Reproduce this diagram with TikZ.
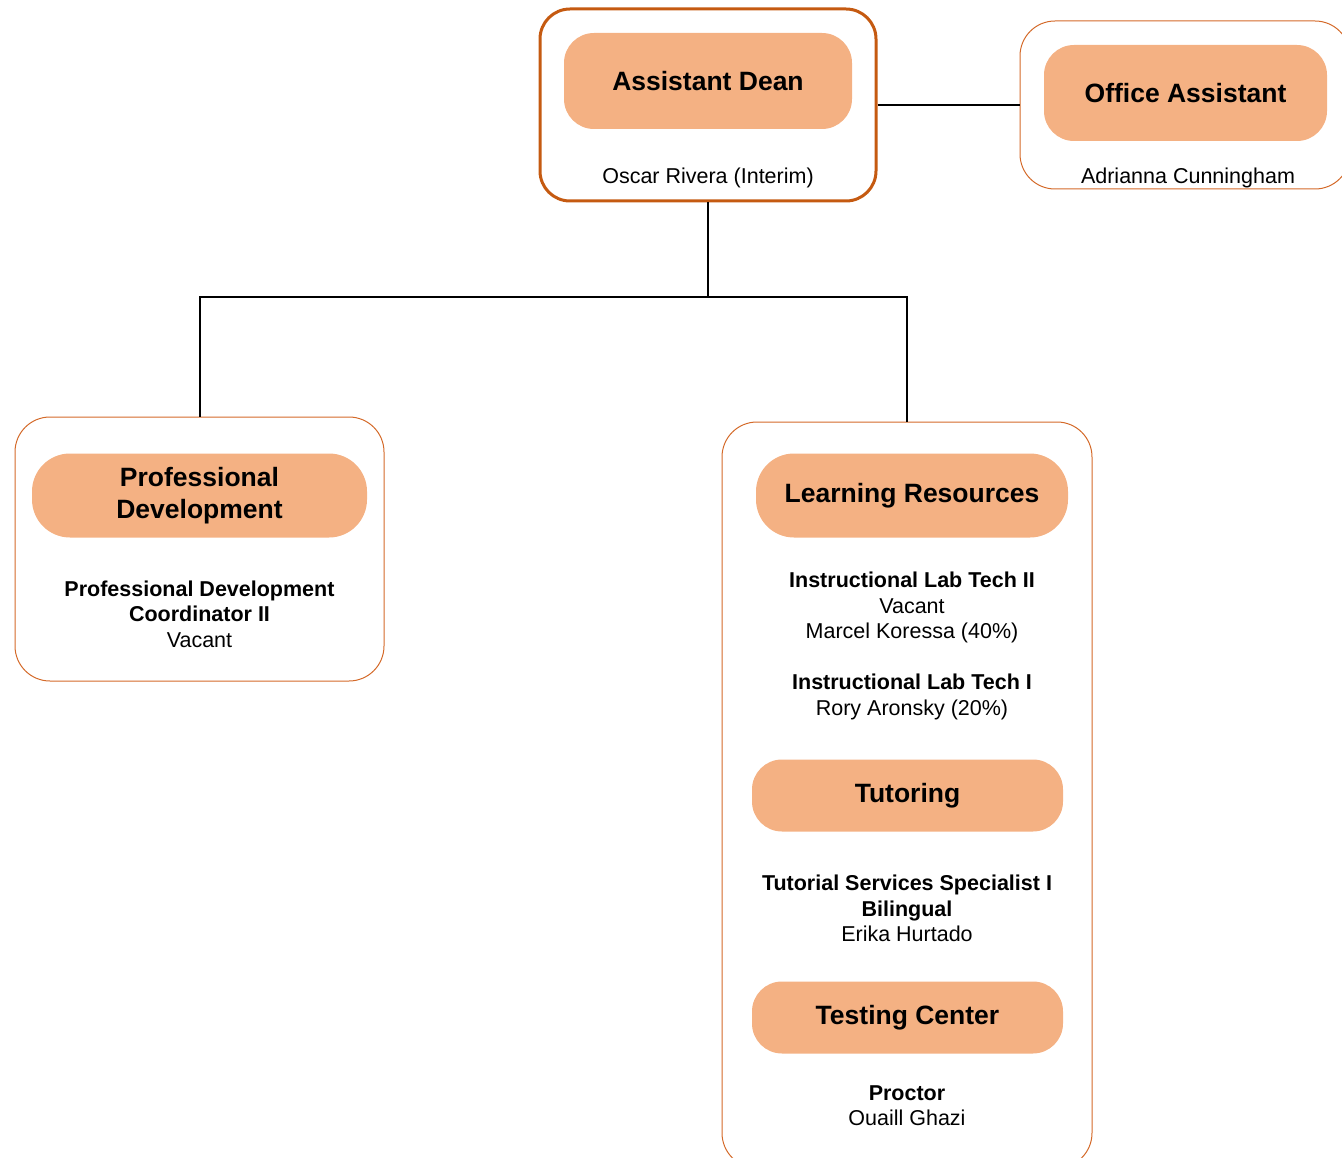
\documentclass[tikz,border=0pt]{standalone}
\usepackage{fontspec}
\setmainfont{Liberation Sans}
\usepackage{tikz}
\definecolor{deanedge}{HTML}{C55A11}
\definecolor{unitedge}{HTML}{D46A2A}
\definecolor{titlefill}{HTML}{F4B183}

\begin{document}
\begin{tikzpicture}[x=1pt, y=-1pt,
    unitbox/.style={draw=unitedge, line width=1pt, rounded corners=35pt, inner sep=0pt},
    titlebox/.style={fill=titlefill, rounded corners=30pt, inner sep=0pt, align=center,
        font=\fontsize{26.5}{32}\selectfont\bfseries},
    staff/.style={align=center, font=\fontsize{21.5}{25.5}\selectfont},
    link/.style={line width=2pt}]
\useasboundingbox (0,0) rectangle (1342,1158);
\clip (0,0) rectangle (1342,1158);
%
\node [unitbox, draw=deanedge, line width=3pt, rounded corners=30pt,
       minimum width=336pt, minimum height=192pt] (dean) at (708,105) {};
\node [unitbox, minimum width=330pt, minimum height=168pt] (office) at (1185,105) {};
\node [unitbox, minimum width=369pt, minimum height=264pt] (pd) at (199.5,549) {};
\node [unitbox, minimum width=370pt, minimum height=746pt] (lr) at (907,795) {};
%
\node [titlebox, minimum width=288pt, minimum height=96pt] (deantitle) at (708,81) {Assistant Dean};
\node [titlebox, minimum width=283pt, minimum height=96pt] (officetitle) at (1185.5,93) {Office Assistant};
\node [titlebox, minimum width=335pt, minimum height=84pt, rounded corners=38pt] (pdtitle) at (199.5,495.5) {Professional\\Development};
\node [titlebox, minimum width=312pt, minimum height=84pt, rounded corners=38pt] (lrtitle) at (912,495.5) {Learning Resources};
\node [titlebox, minimum width=311pt, minimum height=72pt] (tutortitle) at (907.5,795.5) {Tutoring};
\node [titlebox, minimum width=311pt, minimum height=72pt] (testtitle) at (907.5,1017.5) {Testing Center};
%
\node [staff] (deanname) at (708,178) {Oscar Rivera (Interim)};
\node [staff] (officename) at (1188,178) {Adrianna Cunningham};
\node [staff] (pdstaff) at (199.5,614) {\textbf{Professional Development}\\\textbf{Coordinator II}\\Vacant};
\node [staff] (labtech2) at (912,607.5) {\textbf{Instructional Lab Tech II}\\Vacant\\Marcel Koressa (40\%)};
\node [staff] (labtech1) at (912,697) {\textbf{Instructional Lab Tech I}\\Rory Aronsky (20\%)};
\node [staff] (tutorstaff) at (907,908.5) {\textbf{Tutorial Services Specialist I}\\\textbf{Bilingual}\\Erika Hurtado};
\node [staff] (proctor) at (907,1105.5) {\textbf{Proctor}\\Ouaill Ghazi};
%
\coordinate (split) at (708,297);
\draw [link] (dean.east) -- (office.west);
\draw [link] (dean.south) -- (split) -| (pd.north);
\draw [link] (split) -| (lr.north);
%%%%%%%%%%%%%%%%%%%%%%%%%%%%%%%
\end{tikzpicture}
\end{document}
